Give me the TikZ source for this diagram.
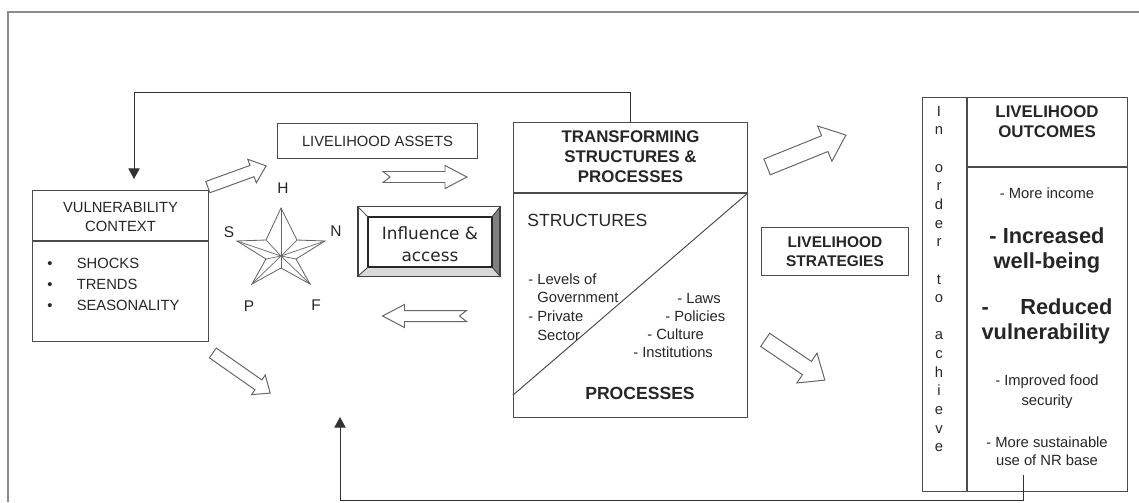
\documentclass[tikz,border=0pt]{standalone}
\usepackage{fontspec}
\setmainfont{Liberation Sans}
\newfontfamily\verdana{DejaVu Sans}
\usetikzlibrary{arrows.meta,calc}

\newcommand{\fs}[2]{\fontsize{#1}{#2}\selectfont}

% hollow block arrows: centre, angle, half length, half shaft, half head
\newcommand{\fatarrow}[5]{%
  \draw[hollow,shift={#1},rotate=#2] (-#3,-#4) -- ({#3-1.2*#5},-#4) -- ({#3-1.2*#5},-#5)
    -- (#3,0) -- ({#3-1.2*#5},#5) -- ({#3-1.2*#5},#4) -- (-#3,#4) -- cycle;}
% same with a notched tail: centre, angle, half length, half shaft, half head, head length
\newcommand{\notcharrow}[6]{%
  \draw[hollow,shift={#1},rotate=#2] (-#3,-#4) -- ({#3-#6},-#4) -- ({#3-#6},-#5)
    -- (#3,0) -- ({#3-#6},#5) -- ({#3-#6},#4) -- (-#3,#4) -- ({-#3+7},0) -- cycle;}

\tikzset{
  box/.style={draw=black!70, line width=0.8pt, inner sep=0pt},
  txt/.style={inner sep=0pt, text=black!85, align=center},
  hollow/.style={draw=black!60, line width=0.7pt, fill=white},
  feedback/.style={draw=black!80, line width=0.7pt, -{Triangle[length=7.5pt,width=8pt]}},
}

\begin{document}
\begin{tikzpicture}[x=0.025cm,y=-0.025cm]
  \useasboundingbox (0,0) rectangle (1139,502);
  \draw[black!45, line width=1.4pt] (8,502) |- (1139,12);

  % vulnerability context
  \node[box, minimum width=125.4pt, minimum height=36.1pt] (vhead) at (120.5,215.5) {};
  \node[box, minimum width=125.4pt, minimum height=71.6pt] (vbody) at (120.5,291.5) {};
  \node[txt, font=\fs{10.5}{13.5}] (vtitle) at (120.5,216.5) {VULNERABILITY\\CONTEXT};
  \node[txt, align=left, anchor=west, font=\fs{10.5}{14.9}] (vlist) at (47,284)
    {\makebox[21pt][l]{\textbullet}SHOCKS\\\makebox[21pt][l]{\textbullet}TRENDS\\\makebox[21pt][l]{\textbullet}SEASONALITY};

  % livelihood assets and the pentagon
  \node[box, minimum width=142.4pt, minimum height=25.5pt] (assets) at (377.5,141) {};
  \node[txt, font=\fs{10.5}{12}] (assetstxt) at (377.5,141) {LIVELIHOOD ASSETS};

  \draw[black!60, line width=0.6pt] (281,208) -- (297,240) -- (325,241) -- (296,259) -- (310,284)
    -- (281,268) -- (252,284) -- (266,259) -- (237,241) -- (266,240) -- cycle;
  \foreach \p in {(281,208),(297,240),(325,241),(296,259),(310,284),(281,268),(252,284),(266,259),(237,241),(266,240)}
    \draw[black!60, line width=0.5pt] (281,256) -- \p;
  \node[txt, font=\fs{11}{13}] (h) at (283,188) {H};
  \node[txt, font=\fs{11}{13}] (s) at (229,232) {S};
  \node[txt, font=\fs{11}{13}] (n) at (336,231) {N};
  \node[txt, font=\fs{11}{13}] (p) at (249,306) {P};
  \node[txt, font=\fs{11}{13}] (f) at (316,305) {F};

  % influence & access, bevelled
  \node[inner sep=0pt, minimum width=100.6pt, minimum height=48.9pt] (inflout) at (429,241.5) {};
  \node[inner sep=0pt, minimum width=87.9pt, minimum height=35.4pt] (infl) at (430,242) {};
  \fill[black!50] (inflout.north east) -- (infl.north east) -- (infl.south east) -- (inflout.south east) -- cycle;
  \fill[black!15] (inflout.south west) -- (infl.south west) -- (infl.south east) -- (inflout.south east) -- cycle;
  \draw[black!75, line width=0.8pt] (inflout.north west) rectangle (inflout.south east);
  \draw[black!85, line width=1.1pt] (infl.north west) rectangle (infl.south east);
  \draw[black!75, line width=0.6pt] (inflout.north west) -- (infl.north west)
    (inflout.north east) -- (infl.north east) (inflout.south west) -- (infl.south west)
    (inflout.south east) -- (infl.south east);
  \node[txt, font=\verdana\fs{12}{15.6}] (infltxt) at (430,244) {Influence \&\\access};

  % transforming structures & processes
  \node[box, minimum width=166.5pt, minimum height=50.3pt] (thead) at (630.5,157.5) {};
  \node[box, minimum width=166.5pt, minimum height=159.5pt] (tbody) at (630.5,305.5) {};
  \draw[black!70, line width=0.7pt] ($(tbody.south west)+(0,-23)$) -- (tbody.north east);
  \node[txt, font=\bfseries\fs{12}{14.2}] (ttitle) at (630.5,157) {TRANSFORMING\\STRUCTURES \&\\PROCESSES};
  \node[txt, anchor=west, font=\fs{12.5}{14}] (structs) at (527,220) {STRUCTURES};
  \node[txt, align=left, anchor=west, font=\fs{10.5}{13.3}] (levels) at (528,307)
    {- Levels of\\\phantom{- }Government\\- Private\\\phantom{- }Sector};
  \node[txt, anchor=west, font=\fs{10.5}{12}] (laws) at (677,298) {- Laws};
  \node[txt, anchor=west, font=\fs{10.5}{12}] (policies) at (665,316) {- Policies};
  \node[txt, anchor=west, font=\fs{10.5}{12}] (culture) at (647,334) {- Culture};
  \node[txt, anchor=west, font=\fs{10.5}{12}] (insts) at (633,352) {- Institutions};
  \node[txt, font=\bfseries\fs{12.5}{14}] (procs) at (640,393) {PROCESSES};

  % livelihood strategies
  \node[box, minimum width=104.9pt, minimum height=34.7pt] (strat) at (835,251.5) {};
  \node[txt, font=\bfseries\fs{11}{13.5}] (strattxt) at (835,252) {LIVELIHOOD\\STRATEGIES};

  % livelihood outcomes
  \node[box, minimum width=31.9pt, minimum height=279.9pt] (achieve) at (944.5,294.5) {};
  \node[box, minimum width=114.1pt, minimum height=49.6pt] (ohead) at (1047.5,132) {};
  \node[box, minimum width=114.1pt, minimum height=230.3pt] (obody) at (1047.5,329.5) {};
  \node[txt, font=\fs{10.5}{13.25}] (achievetxt) at (939,279)
    {I\\n\\[13.25pt]o\\r\\d\\e\\r\\[13.25pt]t\\o\\[13.25pt]a\\c\\h\\i\\e\\v\\e};
  \node[txt, font=\bfseries\fs{12}{14.2}] (otitle) at (1047,122) {LIVELIHOOD\\OUTCOMES};
  \node[txt, font=\fs{10.5}{12}] (income) at (1047,193) {- More income};
  \node[txt, font=\bfseries\fs{15.5}{17.7}] (wellbeing) at (1047,250) {- Increased\\well-being};
  \node[txt, align=left, text width=93pt, font=\bfseries\fs{15.5}{17.7}] (vulner) at (1047,321)
    {-\hfill Reduced\\vulnerability};
  \node[txt, font=\fs{10.5}{14.2}] (food) at (1047,392) {- Improved food\\security};
  \node[txt, font=\fs{10.5}{12.8}] (nr) at (1047,451) {- More sustainable\\use of NR base};

  % hollow arrows
  \fatarrow{(237,176.5)}{20}{31}{6}{12.5}
  \fatarrow{(241.5,373)}{-35}{35}{6}{12}
  \fatarrow{(806.5,151)}{22}{42.5}{8.5}{19}
  \fatarrow{(795,360)}{-34}{36}{8}{18}
  \notcharrow{(425,177)}{0}{42}{5.5}{11.5}{22}
  \notcharrow{(424.5,316)}{180}{42}{5.5}{11.5}{22}

  % feedback lines
  \coordinate (topturn) at (134,92);
  \coordinate (vtip) at (134,179);
  \draw[feedback] (thead.north) |- (topturn) -- (vtip);
  \coordinate (nrbase) at (1023,475);
  \coordinate (botturn) at (340,500);
  \coordinate (btip) at (340,417);
  \draw[feedback] (nrbase) |- (botturn) -- (btip);
\end{tikzpicture}
\end{document}
